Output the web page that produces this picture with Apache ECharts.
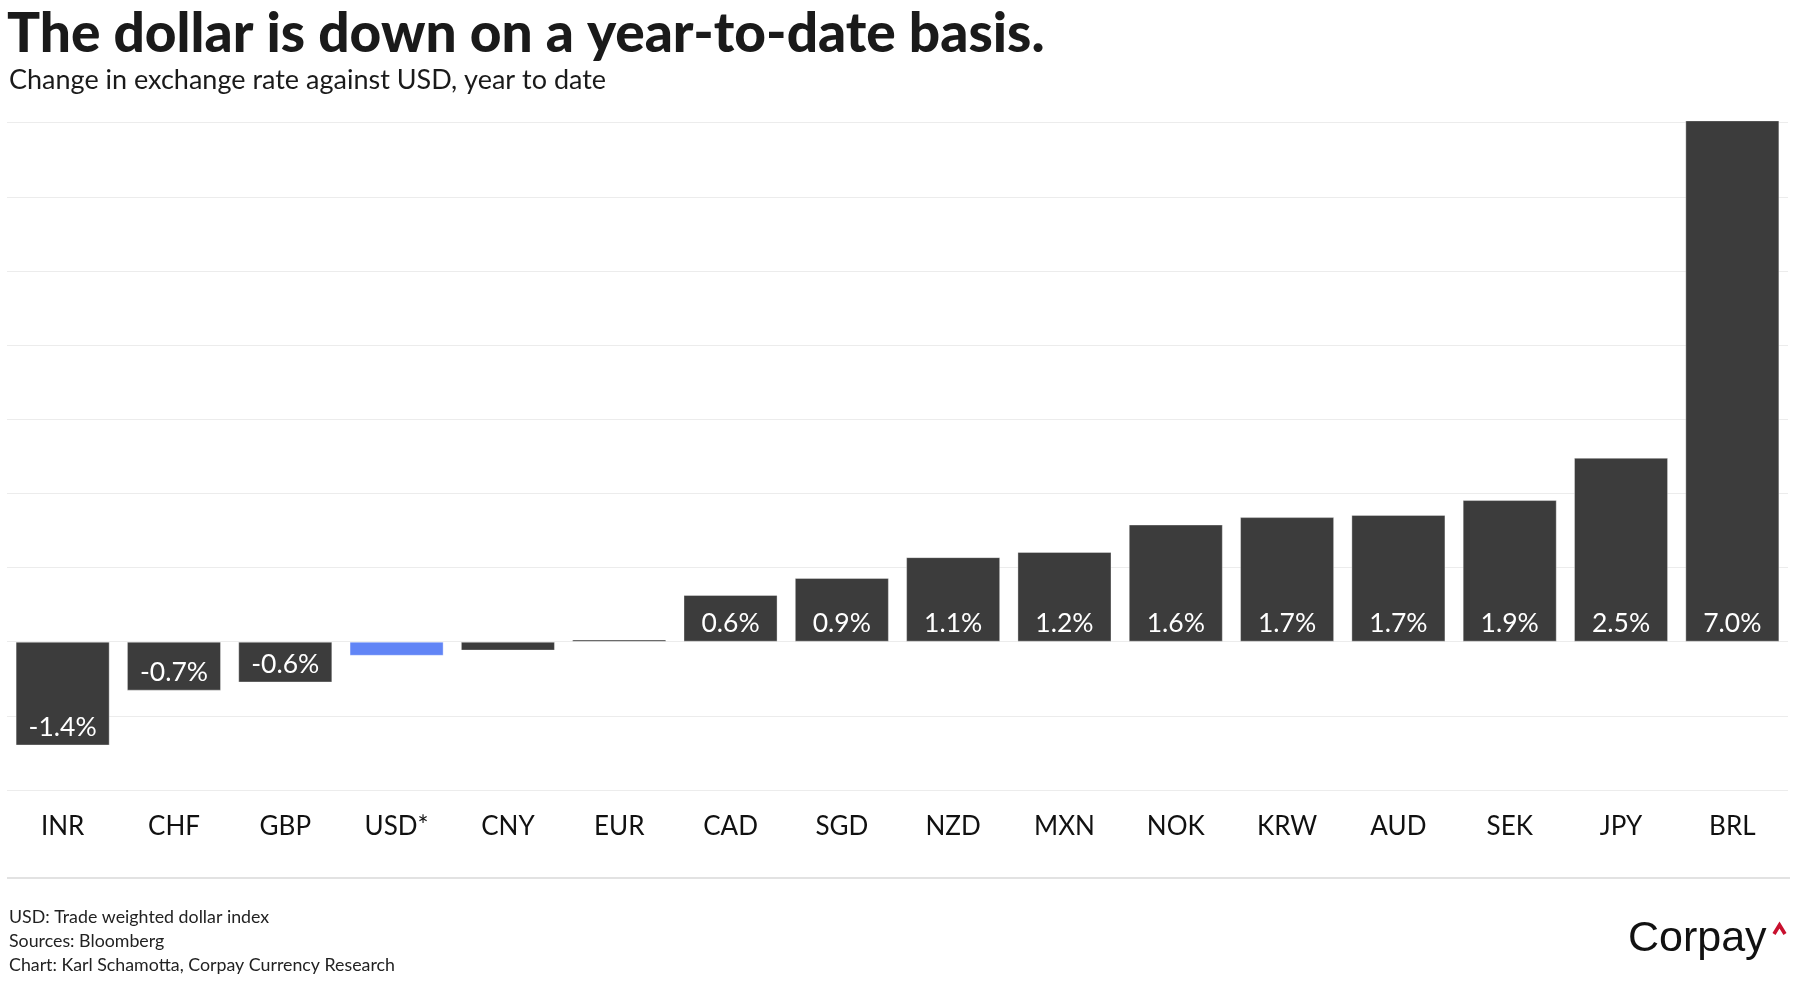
<!DOCTYPE html>
<html>
<head>
<meta charset="utf-8">
<script src="https://cdn.jsdelivr.net/npm/echarts@6/dist/echarts.min.js"></script>
<style>
html,body{margin:0;padding:0;background:#fff;}
#chart{width:1795px;height:1000px;}
</style>
</head>
<body>
<div id="chart"></div>
<script>
const categories = ['INR','CHF','GBP','USD*','CNY','EUR','CAD','SGD','NZD','MXN','NOK','KRW','AUD','SEK','JPY','BRL'];
const values = [-1.40, -0.66, -0.55, -0.19, -0.12, 0.03, 0.63, 0.86, 1.14, 1.21, 1.58, 1.68, 1.71, 1.91, 2.48, 7.03];
const highlight = 'USD*';
const titleText = 'The dollar is down on a year-to-date basis.';
const subtitleText = 'Change in exchange rate against USD, year to date';
const footerLines = ['USD: Trade weighted dollar index', 'Sources: Bloomberg', 'Chart: Karl Schamotta, Corpay Currency Research'];

const DARK = '#3c3c3c';
const BLUE = '#6185f6';

const chart = echarts.init(document.getElementById('chart'), null, {renderer: 'canvas'});

const data = values.map((v, i) => ({
  value: v,
  itemStyle: {color: categories[i] === highlight ? BLUE : DARK},
  label: {show: Math.abs(v) >= 0.3}
}));

const footerGraphics = footerLines.map((t, i) => ({
  type: 'text', left: 9, top: 908 + i * 24,
  style: {text: t, font: '400 17.8px Lato', fill: '#222'}
}));

chart.setOption({
  animation: false,
  backgroundColor: '#fff',
  grid: {left: 7, right: 7, top: 122.6, bottom: 210, containLabel: false},
  xAxis: {
    type: 'category', data: categories,
    axisLine: {show: false}, axisTick: {show: false},
    axisLabel: {fontFamily: 'Lato', fontSize: 26, color: '#111', margin: 24}
  },
  yAxis: {
    type: 'value', min: -2, max: 7, interval: 1,
    axisLabel: {show: false}, axisLine: {show: false}, axisTick: {show: false},
    splitLine: {lineStyle: {color: '#ececec', width: 1.2}}
  },
  series: [{
    type: 'bar', data: data, barWidth: '84.5%', clip: false,
    itemStyle: {borderColor: 'rgba(255,255,255,0.35)', borderWidth: 1},
    label: {
      position: 'insideBottom', distance: 5, color: '#fff',
      fontFamily: 'Lato', fontSize: 26.5,
      formatter: p => p.value.toFixed(1) + '%'
    }
  }],
  graphic: [
    {type: 'text', left: 7, top: 7, style: {text: titleText, font: '900 55px Lato', fill: '#1a1a1a'}},
    {type: 'text', left: 9, top: 67, style: {text: subtitleText, font: '400 27px Lato', fill: '#1a1a1a'}},
    {type: 'line', shape: {x1: 7, y1: 878, x2: 1790, y2: 878}, style: {stroke: '#d8d8d8', lineWidth: 1.5}},
    ...footerGraphics,
    {type: 'text', left: 1628, top: 918, style: {text: 'Corpay', font: '400 43px "Liberation Sans"', fill: '#111'}},
    {type: 'polyline', shape: {points: [[1774, 934], [1779.5, 925], [1785, 934]]}, style: {stroke: '#c8102e', lineWidth: 3.6, fill: null}}
  ]
});
</script>
</body>
</html>
